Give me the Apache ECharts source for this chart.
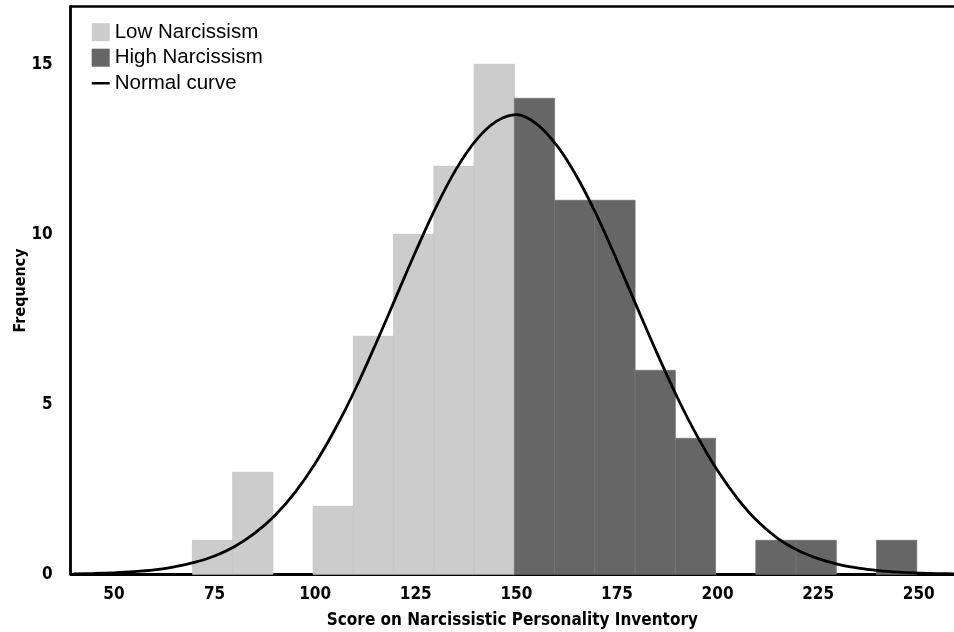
<!DOCTYPE html>
<html>
<head>
<meta charset="utf-8">
<script src="https://cdn.jsdelivr.net/npm/echarts@6/dist/echarts.min.js"></script>
<style>
html,body{margin:0;padding:0;background:#fff;}
#chart{width:954px;height:632px;}
</style>
</head>
<body>
<div id="chart"></div>
<script>
// ---- data ----
const tickLabelsX = [50, 75, 100, 125, 150, 175, 200, 225, 250];
const tickLabelsY = [0, 5, 10, 15];
const binWidth = 10;
const lowBinStart = [69.5, 79.5, 99.5, 109.5, 119.5, 129.5, 139.5];
const lowCounts = [1, 3, 2, 7, 10, 12, 15];
const highBinStart = [149.5, 159.5, 169.5, 179.5, 189.5, 209.5, 219.5, 239.5];
const highCounts = [14, 11, 11, 6, 4, 1, 1, 1];
const curveX = [40, 45, 50, 55, 60, 65, 70, 75, 80, 85, 90, 95, 100, 105, 110, 115, 120, 125, 130, 135, 140, 145, 150, 155, 160, 165, 170, 175, 180, 185, 190, 195, 200, 205, 210, 215, 220, 225, 230, 235, 240, 245, 250, 255, 260];
const curveY = [0.013, 0.024, 0.044, 0.077, 0.13, 0.22, 0.35, 0.54, 0.82, 1.21, 1.73, 2.41, 3.26, 4.28, 5.45, 6.76, 8.13, 9.5, 10.79, 11.91, 12.77, 13.32, 13.52, 13.25, 12.62, 11.7, 10.55, 9.23, 7.85, 6.49, 5.2, 4.05, 3.05, 2.22, 1.55, 1.05, 0.7, 0.46, 0.29, 0.18, 0.11, 0.065, 0.037, 0.02, 0.011];

const xMin = 39.25, xMax = 258.75;
const yMin = 0, yMax = 16.7;

const axisFont = '"Liberation Sans Narrow", "DejaVu Sans Condensed", "Roboto Condensed", "Liberation Sans", sans-serif';
const legendFont = '"Liberation Sans", Arial, sans-serif';

function binData(starts, counts) {
  return starts.map((s, i) => [s, s + binWidth, counts[i]]);
}

function makeRender(fill, stroke) {
  return function (params, api) {
    const a = api.coord([api.value(0), api.value(2)]);
    const b = api.coord([api.value(1), 0]);
    return {
      type: 'rect',
      shape: { x: a[0], y: a[1], width: b[0] - a[0], height: b[1] - a[1] },
      style: { fill: fill, stroke: stroke, lineWidth: 0.8 }
    };
  };
}

const lineIcon = 'path://M0,0h0.01v0.01h-0.01z M0,7.8h18v2.6h-18z M17.99,17.99h0.01v0.01h-0.01z';

const chart = echarts.init(document.getElementById('chart'), null, { renderer: 'canvas' });

const option = {
  animation: false,
  backgroundColor: '#ffffff',
  grid: { left: 70.7, right: 0, top: 6.5, bottom: 57.7, containLabel: false, outerBoundsMode: 'none' },
  legend: {
    orient: 'vertical',
    left: 91.7,
    top: 21.7,
    padding: 0,
    itemWidth: 18,
    itemHeight: 18,
    itemGap: 4.5,
    textStyle: { fontFamily: legendFont, fontSize: 20.5, color: '#000', lineHeight: 20 },
    data: [
      { name: 'Low Narcissism', icon: 'rect' },
      { name: 'High Narcissism', icon: 'rect' },
      { name: 'Normal curve', icon: lineIcon }
    ]
  },
  xAxis: [
    {
      type: 'value',
      min: xMin,
      max: xMax,
      name: 'Score on Narcissistic Personality Inventory',
      nameLocation: 'middle',
      nameGap: 38,
      nameMoveOverlap: false,
      nameTextStyle: { fontFamily: axisFont, fontWeight: 'bold', fontSize: 17, color: '#000' },
      axisLine: { show: true, onZero: false, lineStyle: { color: '#000', width: 2.8 } },
      axisTick: { show: false },
      splitLine: { show: false },
      axisLabel: {
        customValues: tickLabelsX,
        margin: 12,
        fontFamily: axisFont, fontWeight: 'bold', fontSize: 17, color: '#000'
      }
    },
    {
      type: 'value',
      position: 'top',
      min: xMin,
      max: xMax,
      axisLine: { show: true, onZero: false, lineStyle: { color: '#000', width: 2.5 } },
      axisTick: { show: false },
      axisLabel: { show: false },
      splitLine: { show: false }
    }
  ],
  yAxis: {
    type: 'value',
    min: yMin,
    max: yMax,
    name: 'Frequency',
    nameLocation: 'middle',
    nameGap: 42,
    nameMoveOverlap: false,
    nameTextStyle: { fontFamily: axisFont, fontWeight: 'bold', fontSize: 16, color: '#000' },
    axisLine: { show: true, onZero: false, lineStyle: { color: '#000', width: 2.8 } },
    axisTick: { show: false },
    splitLine: { show: false },
    axisLabel: {
      customValues: tickLabelsY,
      margin: 18,
      fontFamily: axisFont, fontWeight: 'bold', fontSize: 17, color: '#000'
    }
  },
  series: [
    {
      name: 'Low Narcissism',
      type: 'custom',
      xAxisIndex: 0,
      yAxisIndex: 0,
      itemStyle: { color: '#cccccc' },
      encode: { x: [0, 1], y: 2 },
      renderItem: makeRender('#cccccc', '#c4c4c4'),
      data: binData(lowBinStart, lowCounts),
      z: 2
    },
    {
      name: 'High Narcissism',
      type: 'custom',
      xAxisIndex: 0,
      yAxisIndex: 0,
      itemStyle: { color: '#666666' },
      encode: { x: [0, 1], y: 2 },
      renderItem: makeRender('#666666', '#747474'),
      data: binData(highBinStart, highCounts),
      z: 2
    },
    {
      name: 'Normal curve',
      type: 'line',
      xAxisIndex: 0,
      yAxisIndex: 0,
      smooth: 0.35,
      symbol: 'none',
      showSymbol: false,
      lineStyle: { color: '#000', width: 2.8 },
      itemStyle: { color: '#000' },
      data: curveX.map((x, i) => [x, curveY[i]]),
      z: 5
    }
  ]
};

chart.setOption(option);
</script>
</body>
</html>
